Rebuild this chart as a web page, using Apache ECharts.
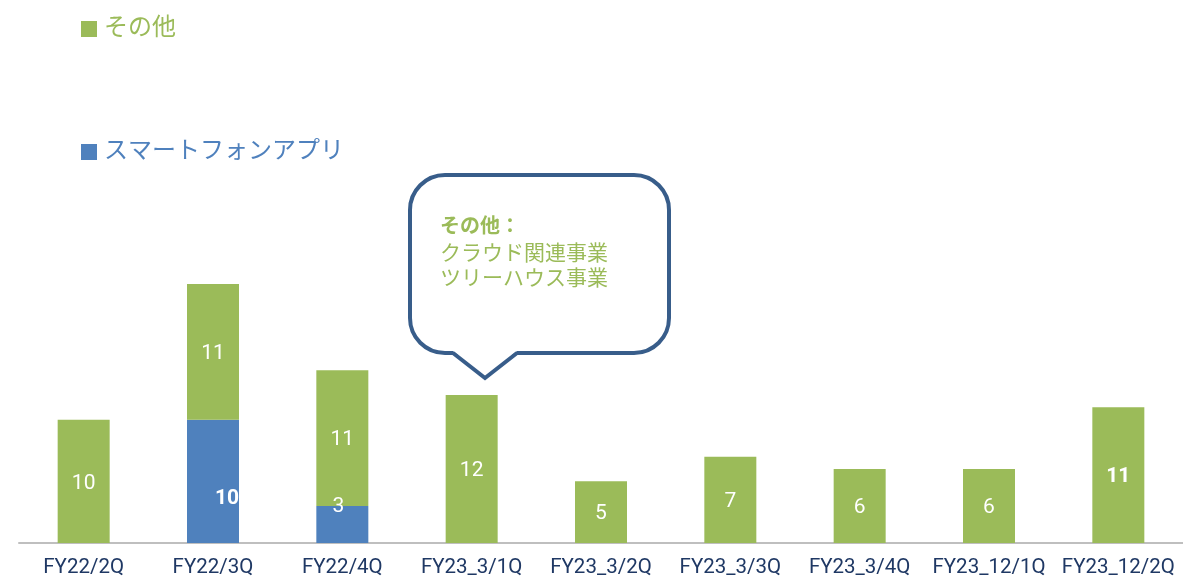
<!DOCTYPE html>
<html>
<head>
	<meta charset="UTF-8">
	<title>セグメント別</title>
	<script src="https://cdn.jsdelivr.net/npm/echarts@6/dist/echarts.min.js"></script>
	<style type="text/css">
		html, body { margin: 0; padding: 0; background: #fff; }
		#chart { width: 1183px; height: 581px; }
	</style>
</head>
<body>
	<div id="chart"></div>

<script type="text/javascript">
// 期間
var categories = ['FY22/2Q', 'FY22/3Q', 'FY22/4Q', 'FY23_3/1Q', 'FY23_3/2Q', 'FY23_3/3Q', 'FY23_3/4Q', 'FY23_12/1Q', 'FY23_12/2Q'];
// スマートフォンアプリ
var appValues = [null, 10, 3, null, null, null, null, null, null];
// その他
var otherValues = [10, 11, 11, 12, 5, 7, 6, 6, 11];

var GREEN = '#9BBB59', BLUE = '#4F81BD', NAVY = '#385D8A';
var FONT = 'Roboto, "Noto Sans CJK JP", sans-serif';

var chart = echarts.init(document.getElementById('chart'));

// 個別ラベル調整
function appItem(v, i){
	var item = { value: v };
	if (i === 1) item.label = { fontWeight: 'bold', offset: [14, 17] };
	if (i === 2) item.label = { offset: [-4, -18] };
	return item;
}
function otherItem(v, i){
	var item = { value: v };
	if (i === 8) item.label = { fontWeight: 'bold' };
	return item;
}

var option = {
	animation: false,
	textStyle: { fontFamily: FONT },
	grid: { left: 19, width: 1176, top: 173, height: 370, containLabel: false },
	legend: [
		{
			data: ['その他'],
			left: 76, top: 12,
			icon: 'rect', itemWidth: 16, itemHeight: 16, itemGap: 0,
			textStyle: { color: GREEN, fontSize: 24, fontFamily: FONT, padding: [0, 0, 0, 2] }
		},
		{
			data: ['スマートフォンアプリ'],
			left: 76, top: 135,
			icon: 'rect', itemWidth: 16, itemHeight: 16, itemGap: 0,
			textStyle: { color: BLUE, fontSize: 24, fontFamily: FONT, padding: [0, 0, 0, 2] }
		}
	],
	xAxis: {
		type: 'category',
		data: categories,
		axisTick: { show: false },
		axisLine: { lineStyle: { color: '#BFBFBF', width: 2 } },
		axisLabel: { color: '#1F3864', fontSize: 20.5, margin: 15, interval: 0, fontFamily: FONT }
	},
	yAxis: {
		type: 'value',
		min: 0, max: 30,
		show: false,
		splitLine: { show: false }
	},
	series: [
		{
			name: 'スマートフォンアプリ',
			type: 'bar',
			stack: 'total',
			barWidth: 52,
			itemStyle: { color: BLUE },
			label: { show: true, position: 'inside', color: '#fff', fontSize: 21, fontFamily: FONT },
			data: appValues.map(appItem)
		},
		{
			name: 'その他',
			type: 'bar',
			stack: 'total',
			barWidth: 52,
			itemStyle: { color: GREEN },
			label: { show: true, position: 'inside', offset: [0, 2], color: '#fff', fontSize: 21, fontFamily: FONT },
			data: otherValues.map(otherItem)
		}
	],
	graphic: [
		// 吹き出し
		{
			type: 'rect',
			shape: { x: 410, y: 175, width: 259, height: 178, r: 35 },
			style: { fill: '#fff', stroke: NAVY, lineWidth: 4 },
			z: 10
		},
		{
			type: 'polygon',
			shape: { points: [[453, 351], [517, 351], [485, 376]] },
			style: { fill: '#fff' },
			z: 11
		},
		{
			type: 'polyline',
			shape: { points: [[453, 353], [485, 378], [517, 353]] },
			style: { stroke: NAVY, lineWidth: 4, fill: null },
			z: 11
		},
		{
			type: 'text',
			left: 440, top: 218,
			style: { text: 'その他：', fill: GREEN, font: 'bold 20px ' + FONT },
			z: 12
		},
		{
			type: 'text',
			left: 440, top: 242,
			style: { text: 'クラウド関連事業\nツリーハウス事業', fill: GREEN, font: '21px ' + FONT, lineHeight: 25 },
			z: 12
		}
	]
};
chart.setOption(option);
</script>
</body>
</html>
